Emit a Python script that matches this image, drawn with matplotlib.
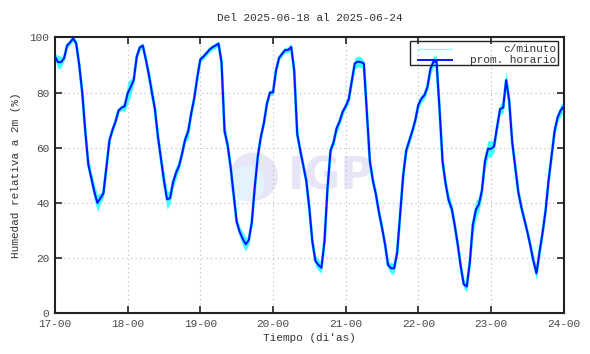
import numpy as np
import matplotlib
matplotlib.use("Agg")
import matplotlib.pyplot as plt
from matplotlib.lines import Line2D
from matplotlib.patches import Ellipse, Rectangle

plt.rcParams["font.family"] = ["Liberation Mono", "DejaVu Sans Mono"]

TITLE = "Del 2025-06-18 al 2025-06-24"
START_DAY = 17

# hourly mean relative humidity (%), hour 0 = 17-00
hum_17 = [93, 91, 91, 92.4, 97, 98.2, 99.6, 97.8, 90, 80, 66, 54,
          49, 44, 40, 41.7, 43.5, 53, 62.7, 66.5, 69.5, 73.5, 74.5, 75]
hum_18 = [79.7, 82, 84.5, 93, 96.3, 97, 92, 86.5, 80, 74, 64, 56,
          48, 41.3, 41.7, 47.5, 51, 53.5, 58, 63, 66, 72.5, 78, 85.5]
hum_19 = [92, 93, 94.2, 95.5, 96.4, 97, 97.7, 91, 66, 61, 53, 43,
          33.2, 29.5, 27, 25, 26.5, 33, 46, 57, 64, 69, 76, 80]
hum_20 = [80, 88, 92.5, 94, 95.4, 95.4, 96.5, 88, 65, 59, 53.5, 48,
          38, 26, 19, 17.5, 16.5, 26, 45.3, 59, 62, 67, 69.5, 73]
hum_21 = [75, 77.5, 84, 90.5, 91.2, 91, 90.5, 72.5, 55, 48, 43, 36.5,
          31, 25, 17.5, 16.3, 16.3, 22, 36, 50, 59, 62.5, 66, 70]
hum_22 = [75.5, 77.8, 79, 82, 88.5, 91.2, 91.2, 74, 55, 47, 41, 38,
          32, 25, 17, 10.5, 9.7, 18.5, 32, 37.5, 39.5, 44.5, 55, 59.6]
hum_23 = [59.6, 60.5, 67.5, 74, 74.5, 84.5, 77, 62, 53, 44, 38.5, 34,
          29.5, 24.5, 19, 14.5, 22, 29, 37, 48, 57, 66, 71, 73.5]
hum_24 = [75]

# half-width of the per-minute scatter around each hourly mean (%)
spr_17 = [1, 2.5, 2, 1, 1, 1, 1, 1, 1.5, 2, 3, 3,
          2, 3, 3, 2, 1.5, 2, 1.5, 1, 1, 1, 1, 2]
spr_18 = [4, 3, 1.5, 1, 1, 1, 1.5, 2, 3, 2.5, 2, 2,
          3, 3.5, 2, 2, 2.5, 1.5, 1.5, 1, 3, 2, 1.5, 1]
spr_19 = [1, 1, 1, 1, 1, 1, 1, 2, 3, 2, 1.5, 1.5,
          1.5, 2, 2.5, 2.5, 1.5, 1, 1, 2, 1.5, 1.5, 1, 1]
spr_20 = [1, 1, 1, 1, 1, 1, 1.5, 2, 2, 1.5, 1.5, 1.5,
          1.5, 1.5, 2, 2, 2, 1, 1, 1, 1.5, 2, 1.5, 1.5]
spr_21 = [1, 1.5, 2, 2, 2, 2, 1, 1, 1.5, 1.5, 2, 2,
          2, 1.5, 1.5, 2, 2, 1, 1, 1.5, 1.5, 1.5, 1.5, 1.5]
spr_22 = [1.5, 1.5, 1.5, 1.5, 2, 2, 2, 1.5, 1.5, 2, 2.5, 2,
          1.5, 1.5, 1.5, 1.5, 2, 1.5, 4, 3.5, 2.5, 2.5, 3, 3]
spr_23 = [3, 2, 2, 2, 2, 3.5, 2.5, 2, 2, 2, 1.5, 1.5,
          1.5, 1.5, 2, 2.5, 2, 1.5, 1.5, 1.5, 1.5, 1.5, 1.5, 2]
spr_24 = [2]

x_ticks = [17, 18, 19, 20, 21, 22, 23, 24]
x_labels = ["17-00", "18-00", "19-00", "20-00", "21-00", "22-00", "23-00", "24-00"]
y_ticks = [0, 20, 40, 60, 80, 100]


def main():
    hourly = np.array(hum_17 + hum_18 + hum_19 + hum_20 + hum_21 + hum_22 + hum_23 + hum_24)
    spread = np.array(spr_17 + spr_18 + spr_19 + spr_20 + spr_21 + spr_22 + spr_23 + spr_24)
    t = START_DAY + np.arange(len(hourly)) / 24.0

    fig = plt.figure(figsize=(5.9, 3.54), dpi=100)
    ax = fig.add_axes([0.0932, 0.115, 0.8622, 0.7796])

    # IGP watermark
    ax.add_patch(Ellipse((0.391, 0.496), 0.094, 0.174, transform=ax.transAxes,
                         facecolor="#e6e6f6", edgecolor="none", zorder=0))
    ax.add_patch(Ellipse((0.378, 0.47), 0.07, 0.13, transform=ax.transAxes,
                         facecolor="#e4f2fd", edgecolor="none", zorder=0))
    ax.text(0.458, 0.494, "IGP", transform=ax.transAxes, fontsize=32,
            fontweight="bold", family=["DejaVu Sans"], color="#e6e6f7",
            va="center", ha="left", zorder=0)

    cyan = "#40ffff"
    blue = "#0814ff"
    ax.fill_between(t, hourly - spread, hourly + spread, color=cyan, lw=0, zorder=2)
    ax.plot(t, hourly, color=cyan, lw=2.2, zorder=2)
    ax.plot(t, hourly, color=blue, lw=1.5, zorder=3)

    ax.set_xlim(17, 24)
    ax.set_ylim(0, 100)
    ax.set_xticks(x_ticks)
    ax.set_xticklabels(x_labels)
    ax.set_yticks(y_ticks)
    ax.tick_params(direction="in", length=5, width=1.2, top=True, right=True,
                   labelsize=8, colors="#222222", labelcolor="#4a4a4a", pad=4)
    ax.grid(True, color="#b8b8b8", linestyle=(0, (1, 3)), linewidth=0.8)
    for s in ax.spines.values():
        s.set_linewidth(1.5)
        s.set_color("#222222")

    ax.set_xlabel("Tiempo (di'as)", fontsize=8, color="#333333", labelpad=3)
    ax.set_ylabel("Humedad relativa a 2m (%)", fontsize=8, color="#333333", labelpad=6)
    fig.text(0.525, 0.948, TITLE, fontsize=8, color="#333333", ha="center", va="center")

    # gnuplot-style key, drawn by hand
    ax.add_patch(Rectangle((0.698, 0.898), 0.29, 0.088, transform=ax.transAxes,
                           fill=False, edgecolor="#222222", lw=1.0, zorder=5))
    ax.add_line(Line2D([0.713, 0.78], [0.958, 0.958], transform=ax.transAxes,
                       color="#90ffff", lw=1.0, zorder=5))
    ax.add_line(Line2D([0.713, 0.78], [0.918, 0.918], transform=ax.transAxes,
                       color=blue, lw=1.4, zorder=5))
    ax.text(0.985, 0.958, "c/minuto", transform=ax.transAxes, fontsize=8,
            color="#333333", ha="right", va="center", zorder=5)
    ax.text(0.985, 0.918, "prom. horario", transform=ax.transAxes, fontsize=8,
            color="#333333", ha="right", va="center", zorder=5)

    fig.savefig("out.png", dpi=100)


if __name__ == "__main__":
    main()
